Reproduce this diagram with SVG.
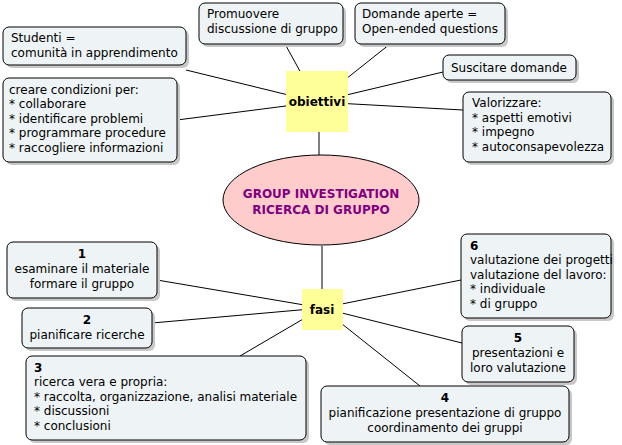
<svg xmlns="http://www.w3.org/2000/svg" width="622" height="445" viewBox="0 0 622 445">
<style>
text{font-family:"DejaVu Sans",Verdana,sans-serif;font-size:12px;fill:#000}
.b{fill:#eef3f5;stroke:#000;stroke-width:1}
.s{fill:#c8c8c8;stroke:none}
.c line{stroke:#000;stroke-width:1}
.m{text-anchor:middle}
.k{fill:#ffff99;stroke:none}
</style>
<rect width="622" height="445" fill="#fff"/>
<g class="c">
<line x1="317" y1="102" x2="186" y2="70"/>
<line x1="317" y1="102" x2="285" y2="44"/>
<line x1="317" y1="102" x2="390" y2="44"/>
<line x1="317" y1="102" x2="443" y2="72"/>
<line x1="317" y1="102" x2="177" y2="120"/>
<line x1="317" y1="102" x2="463" y2="110"/>
<line x1="319" y1="132" x2="319" y2="155"/>
<line x1="322" y1="246" x2="322" y2="290"/>
<line x1="322" y1="308" x2="157" y2="280"/>
<line x1="322" y1="308" x2="152" y2="323"/>
<line x1="322" y1="308" x2="240" y2="356"/>
<line x1="322" y1="308" x2="461" y2="280"/>
<line x1="322" y1="308" x2="462" y2="343"/>
<line x1="322" y1="308" x2="420" y2="386"/>
</g>
<g id="obiettivi"><rect class="k" x="286" y="71" width="62" height="61"/><text x="317" y="106" class="m" font-weight="bold">obiettivi</text></g>
<g id="center"><ellipse cx="321" cy="200" rx="98" ry="45" fill="#ffcccc" stroke="#000"/>
<text x="321" y="198" class="m" font-weight="bold" style="fill:#800080">GROUP INVESTIGATION</text>
<text x="321" y="214" class="m" font-weight="bold" style="fill:#800080">RICERCA DI GRUPPO</text></g>
<g id="fasi"><rect class="k" x="302" y="289" width="41" height="41"/><text x="322" y="314" class="m" font-weight="bold">fasi</text></g>
<g id="studenti"><rect class="s" x="6" y="30" width="183" height="38" rx="6"/><rect class="b" x="3" y="27" width="183" height="38" rx="6"/><text x="11" y="42">Studenti =</text><text x="11" y="57">comunità in apprendimento</text></g>
<g id="promuovere"><rect class="s" x="202" y="6" width="144" height="41" rx="6"/><rect class="b" x="199" y="3" width="144" height="41" rx="6"/><text x="207" y="18">Promuovere</text><text x="207" y="33">discussione di gruppo</text></g>
<g id="domande"><rect class="s" x="358" y="6" width="150" height="41" rx="6"/><rect class="b" x="355" y="3" width="150" height="41" rx="6"/><text x="362" y="18">Domande aperte =</text><text x="362" y="33">Open-ended questions</text></g>
<g id="suscitare"><rect class="s" x="446" y="58" width="133" height="25" rx="6"/><rect class="b" x="443" y="55" width="133" height="25" rx="6"/><text x="451" y="72">Suscitare domande</text></g>
<g id="creare"><rect class="s" x="6" y="81" width="174" height="84" rx="6"/><rect class="b" x="3" y="78" width="174" height="84" rx="6"/>
<text x="9" y="94">creare condizioni per:</text><text x="9" y="108">* collaborare</text><text x="9" y="123">* identificare problemi</text><text x="9" y="137">* programmare procedure</text><text x="9" y="152">* raccogliere informazioni</text></g>
<g id="valorizzare"><rect class="s" x="466" y="95" width="148" height="70" rx="6"/><rect class="b" x="463" y="92" width="148" height="70" rx="6"/>
<text x="472" y="107">Valorizzare:</text><text x="472" y="122">* aspetti emotivi</text><text x="472" y="136">* impegno</text><text x="472" y="151">* autoconsapevolezza</text></g>
<g id="f1"><rect class="s" x="10" y="245" width="150" height="56" rx="6"/><rect class="b" x="7" y="242" width="150" height="56" rx="6"/>
<text x="82" y="258" class="m" font-weight="bold">1</text><text x="82" y="273" class="m">esaminare il materiale</text><text x="82" y="288" class="m">formare il gruppo</text></g>
<g id="f2"><rect class="s" x="25" y="311" width="130" height="40" rx="6"/><rect class="b" x="22" y="308" width="130" height="40" rx="6"/>
<text x="87" y="324" class="m" font-weight="bold">2</text><text x="87" y="339" class="m">pianificare ricerche</text></g>
<g id="f3"><rect class="s" x="29" y="359" width="280" height="84" rx="6"/><rect class="b" x="26" y="356" width="280" height="84" rx="6"/>
<text x="34" y="372" font-weight="bold">3</text><text x="34" y="386">ricerca vera e propria:</text><text x="34" y="401">* raccolta, organizzazione, analisi materiale</text><text x="34" y="415">* discussioni</text><text x="34" y="430">* conclusioni</text></g>
<g id="f6"><rect class="s" x="464" y="237" width="150" height="84" rx="6"/><rect class="b" x="461" y="234" width="150" height="84" rx="6"/>
<text x="470" y="250" font-weight="bold">6</text><text x="470" y="264">valutazione dei progetti</text><text x="470" y="279">valutazione del lavoro:</text><text x="470" y="293">* individuale</text><text x="470" y="308">* di gruppo</text></g>
<g id="f5"><rect class="s" x="465" y="329" width="112" height="56" rx="6"/><rect class="b" x="462" y="326" width="112" height="56" rx="6"/>
<text x="518" y="342" class="m" font-weight="bold">5</text><text x="518" y="357" class="m">presentazioni e</text><text x="518" y="372" class="m">loro valutazione</text></g>
<g id="f4"><rect class="s" x="324" y="389" width="248" height="56" rx="6"/><rect class="b" x="321" y="386" width="248" height="56" rx="6"/>
<text x="445" y="402" class="m" font-weight="bold">4</text><text x="445" y="417" class="m">pianificazione presentazione di gruppo</text><text x="445" y="432" class="m">coordinamento dei gruppi</text></g>
</svg>
